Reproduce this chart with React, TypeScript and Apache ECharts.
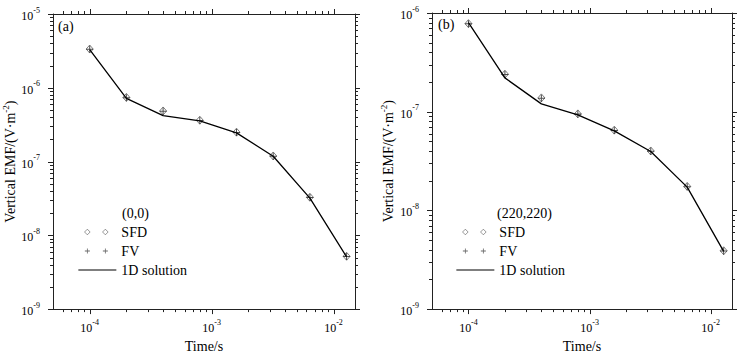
import React, { useEffect, useRef } from 'react';
import * as echarts from 'echarts';

// ---------- data ----------
const times = [1e-4, 2e-4, 4e-4, 8e-4, 1.6e-3, 3.2e-3, 6.4e-3, 1.28e-2];

const sfdA = [3.35e-6, 7.4e-7, 4.85e-7, 3.63e-7, 2.5e-7, 1.19e-7, 3.28e-8, 5.2e-9];
const fvA = [3.32e-6, 7.35e-7, 4.8e-7, 3.6e-7, 2.48e-7, 1.18e-7, 3.26e-8, 5.15e-9];
const solA = [3.3e-6, 7.2e-7, 4.2e-7, 3.55e-7, 2.45e-7, 1.18e-7, 3.2e-8, 5.1e-9];

const sfdB = [7.8e-7, 2.4e-7, 1.38e-7, 9.5e-8, 6.5e-8, 4.0e-8, 1.75e-8, 3.9e-9];
const fvB = [7.8e-7, 2.38e-7, 1.37e-7, 9.45e-8, 6.45e-8, 3.98e-8, 1.74e-8, 3.88e-9];
const solB = [8.0e-7, 2.2e-7, 1.2e-7, 9.3e-8, 6.4e-8, 3.95e-8, 1.72e-8, 3.85e-9];

const xRange = [5e-5, 1.5e-2];
const yRangeA = [1e-9, 1e-5];
const yRangeB = [1e-9, 1e-6];

const xMajorTicks = [1e-4, 1e-3, 1e-2];
const xMinorTicks = [
  6e-5, 7e-5, 8e-5, 9e-5,
  2e-4, 3e-4, 4e-4, 5e-4, 6e-4, 7e-4, 8e-4, 9e-4,
  2e-3, 3e-3, 4e-3, 5e-3, 6e-3, 7e-3, 8e-3, 9e-3,
];
const minorMantissas = [2, 3, 4, 5, 6, 7, 8, 9];
const yDecadesA = [1e-9, 1e-8, 1e-7, 1e-6];
const yDecadesB = [1e-9, 1e-8, 1e-7];
const yMajorTicksA = [1e-9, 1e-8, 1e-7, 1e-6, 1e-5];
const yMajorTicksB = [1e-9, 1e-8, 1e-7, 1e-6];

const labelsA = { panel: '(a)', point: '(0,0)' };
const labelsB = { panel: '(b)', point: '(220,220)' };

// ---------- styling ----------
const FAMILY = 'Liberation Serif';
const AX = '#222';

const supRich = {
  b: { fontSize: 12, fontFamily: FAMILY, color: '#000', verticalAlign: 'bottom' },
  s: { fontSize: 8, fontFamily: FAMILY, color: '#000', verticalAlign: 'top', padding: [0, 0, 8, 0] },
};

const nameRich = {
  n: { fontSize: 14, fontFamily: FAMILY, color: '#000', verticalAlign: 'bottom' },
  s: { fontSize: 9, fontFamily: FAMILY, color: '#000', verticalAlign: 'top', padding: [0, 0, 7, 0] },
};

const powLabel = (v: number) => {
  const l = Math.log10(v);
  const e = Math.round(l);
  if (Math.abs(l - e) > 1e-6) return '';
  return `{b|10}{s|${e}}`;
};

const SFD_ICON =
  'path://M0 0L0 0M38 8L38 8M9 1.2L11.8 4L9 6.8L6.2 4ZM27 1.2L29.8 4L27 6.8L24.2 4Z';
const FV_ICON =
  'path://M0 0L0 0M38 8L38 8M8.6 1.5H9.4V6.5H8.6ZM6.5 3.6H11.5V4.4H6.5ZM26.6 1.5H27.4V6.5H26.6ZM24.5 3.6H29.5V4.4H24.5Z';
const LINE_ICON = 'path://M0 0L0 0M38 8L38 8M0 3.4H38V4.6H0Z';
const FV_SYMBOL = 'path://M3 0H4V7H3ZM0 3H7V4H0Z';

function pairs(xs: number[], ys: number[]) {
  return xs.map((x, i) => [x, ys[i]]);
}

function axesFor(gi: number, xr: number[], yr: number[], yNameGap: number) {
  const xa = [
    {
      type: 'log', logBase: 10, gridIndex: gi, min: xr[0], max: xr[1], position: 'bottom',
      axisLine: { show: true, onZero: false, lineStyle: { color: AX, width: 1 } },
      axisTick: { show: false }, splitLine: { show: false }, minorTick: { show: false },
      axisLabel: { show: true, margin: 9, formatter: powLabel, rich: supRich },
      name: 'Time/s', nameLocation: 'middle', nameGap: 29,
      nameTextStyle: { fontFamily: FAMILY, fontSize: 14, color: '#000' },
    },
    {
      type: 'log', logBase: 10, gridIndex: gi, min: xr[0], max: xr[1], position: 'top',
      axisLine: { show: true, onZero: false, lineStyle: { color: AX, width: 1 } },
      axisTick: { show: false }, splitLine: { show: false }, axisLabel: { show: false },
    },
  ];
  const ya = [
    {
      type: 'log', logBase: 10, gridIndex: gi, min: yr[0], max: yr[1], position: 'left',
      axisLine: { show: true, onZero: false, lineStyle: { color: AX, width: 1 } },
      axisTick: { show: false }, splitLine: { show: false }, minorTick: { show: false },
      axisLabel: { show: true, margin: 13, formatter: powLabel, rich: supRich },
      name: '{n|Vertical EMF/(V·m}{s|-2}{n|)}', nameLocation: 'middle', nameGap: yNameGap,
      nameRotate: 90,
      nameTextStyle: { fontFamily: FAMILY, fontSize: 14, color: '#000', rich: nameRich },
    },
    {
      type: 'log', logBase: 10, gridIndex: gi, min: yr[0], max: yr[1], position: 'right',
      axisLine: { show: true, onZero: false, lineStyle: { color: AX, width: 1 } },
      axisTick: { show: false }, splitLine: { show: false }, axisLabel: { show: false },
    },
  ];
  return { xa, ya };
}

function tickSeries(gi: number, xr: number[], yr: number[], yMajor: number[], yDecades: number[]) {
  const data: number[][] = [];
  xMajorTicks.forEach((v) => data.push([v, yr[0], 5, 0]));
  xMinorTicks.forEach((v) => data.push([v, yr[0], 3, 0]));
  yMajor.forEach((v) => data.push([xr[0], v, 5, 1]));
  yDecades.forEach((d) => minorMantissas.forEach((m) => data.push([xr[0], m * d, 3, 1])));
  return {
    type: 'custom',
    xAxisIndex: gi * 2,
    yAxisIndex: gi * 2,
    clip: false,
    silent: true,
    z: 5,
    data,
    renderItem: (_p: any, api: any) => {
      const kind = api.value(3);
      const len = api.value(2);
      const style = { stroke: AX, lineWidth: 1 };
      if (kind === 0) {
        const v = api.value(0);
        const b = api.coord([v, yr[0]]);
        const t = api.coord([v, yr[1]]);
        const x = Math.round(b[0]) + 0.5;
        return {
          type: 'group',
          children: [
            { type: 'line', shape: { x1: x, y1: b[1], x2: x, y2: b[1] + len }, style },
            { type: 'line', shape: { x1: x, y1: t[1], x2: x, y2: t[1] - len }, style },
          ],
        };
      }
      const v = api.value(1);
      const l = api.coord([xr[0], v]);
      const r = api.coord([xr[1], v]);
      const y = Math.round(l[1]) + 0.5;
      return {
        type: 'group',
        children: [
          { type: 'line', shape: { x1: l[0], y1: y, x2: l[0] - len, y2: y }, style },
          { type: 'line', shape: { x1: r[0], y1: y, x2: r[0] + len, y2: y }, style },
        ],
      };
    },
  };
}

function dataSeries(gi: number, sfd: number[], fv: number[], sol: number[]) {
  return [
    {
      type: 'line', name: '1D solution', xAxisIndex: gi * 2, yAxisIndex: gi * 2,
      data: pairs(times, sol), symbol: 'none',
      lineStyle: { color: '#000', width: 1.3 }, itemStyle: { color: '#000' },
    },
    {
      type: 'scatter', name: 'SFD', xAxisIndex: gi * 2, yAxisIndex: gi * 2,
      data: pairs(times, sfd), symbol: 'diamond', symbolSize: [7, 8],
      itemStyle: { color: 'rgba(255,255,255,0)', borderColor: '#333', borderWidth: 0.8 },
    },
    {
      type: 'scatter', name: 'FV', xAxisIndex: gi * 2, yAxisIndex: gi * 2,
      data: pairs(times, fv), symbol: FV_SYMBOL, symbolSize: 7,
      itemStyle: { color: '#222' },
    },
  ];
}

function legendAt(left: number) {
  return {
    left, top: 225, orient: 'vertical', itemWidth: 38, itemHeight: 8, itemGap: 5, padding: 0,
    selectedMode: false,
    textStyle: { fontFamily: FAMILY, fontSize: 14, color: '#000', lineHeight: 14 },
    data: [
      { name: 'SFD', icon: SFD_ICON, itemStyle: { color: 'rgba(255,255,255,0)', borderColor: '#444', borderWidth: 0.7 } },
      { name: 'FV', icon: FV_ICON, itemStyle: { color: '#444', borderWidth: 0 } },
      { name: '1D solution', icon: LINE_ICON, itemStyle: { color: '#000', borderWidth: 0 } },
    ],
  };
}

export default function App() {
  const ref = useRef<HTMLDivElement>(null);
  useEffect(() => {
    if (!ref.current) return;
    const chart = echarts.init(ref.current, undefined, { renderer: 'svg' });
    const a = axesFor(0, xRange, yRangeA, 31);
    const b = axesFor(1, xRange, yRangeB, 37);
    chart.setOption({
      animation: false,
      grid: [
        { left: 53, top: 14, width: 302, height: 299, containLabel: false },
        { left: 432, top: 13, width: 300, height: 300, containLabel: false },
      ],
      xAxis: [...a.xa, ...b.xa],
      yAxis: [...a.ya, ...b.ya],
      legend: [legendAt(78), legendAt(456)],
      graphic: [
        { type: 'text', left: 58, top: 19, style: { text: labelsA.panel, font: `14px ${FAMILY}`, fill: '#000' } },
        { type: 'text', left: 438, top: 17, style: { text: labelsB.panel, font: `14px ${FAMILY}`, fill: '#000' } },
        { type: 'text', left: 122, top: 206, style: { text: labelsA.point, font: `14px ${FAMILY}`, fill: '#000' } },
        { type: 'text', left: 497, top: 206, style: { text: labelsB.point, font: `14px ${FAMILY}`, fill: '#000' } },
      ],
      series: [
        ...dataSeries(0, sfdA, fvA, solA),
        ...dataSeries(1, sfdB, fvB, solB),
        tickSeries(0, xRange, yRangeA, yMajorTicksA, yDecadesA),
        tickSeries(1, xRange, yRangeB, yMajorTicksB, yDecadesB),
      ],
    });
    return () => chart.dispose();
  }, []);
  return (
    <div
      ref={ref}
      style={{ position: 'fixed', left: 0, top: 0, width: 747, height: 358, background: '#fff' }}
    />
  );
}
